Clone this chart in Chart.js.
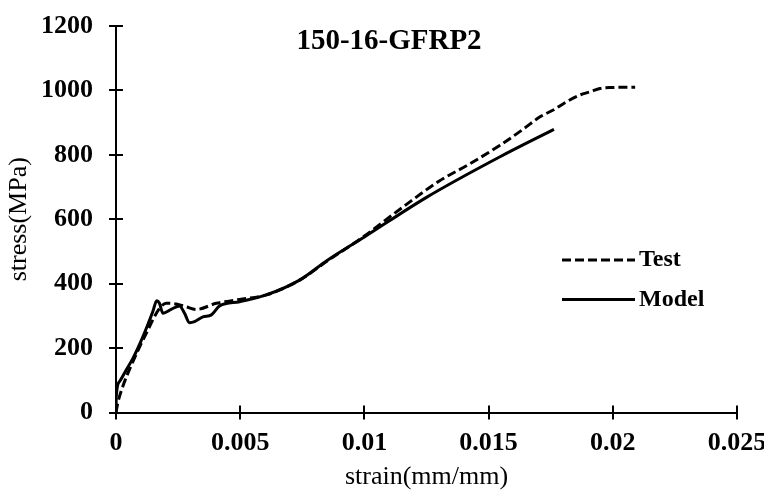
<!DOCTYPE html>
<html>
<head>
<meta charset="utf-8">
<script src="https://cdn.jsdelivr.net/npm/chart.js@4"></script>
<style>
html, body { margin: 0; padding: 0; background: #fff; }
</style>
</head>
<body>
<canvas id="stress_chart" width="764" height="493"></canvas>
<script>
var chartTitle = "150-16-GFRP2";
var xTitle = "strain(mm/mm)";
var yTitle = "stress(MPa)";
var xTickLabels = ["0", "0.005", "0.01", "0.015", "0.02", "0.025"];
var yTickLabels = ["0", "200", "400", "600", "800", "1000", "1200"];

var testStrain = [0, 0.00007, 0.00027, 0.00068, 0.00122, 0.00175, 0.00202, 0.00243, 0.00283, 0.00323, 0.00404, 0.00498, 0.00605, 0.00739, 0.0085, 0.01, 0.0115, 0.013, 0.0142, 0.01546, 0.0164, 0.01707, 0.0176, 0.01814, 0.01868, 0.0191, 0.01948, 0.02, 0.0209];
var testStress = [0, 29, 80, 158, 246, 323, 339, 337, 328, 320, 339, 351, 365, 411, 470, 548, 635, 718, 770, 830, 880, 918, 939, 965, 986, 996, 1006, 1009, 1010];

var modelStrain = [0, 0.00001, 0.00014, 0.00041, 0.00068, 0.00108, 0.00148, 0.00164, 0.00175, 0.00189, 0.00222, 0.00256, 0.00276, 0.00296, 0.00316, 0.0035, 0.00384, 0.00417, 0.00498, 0.00605, 0.00739, 0.0085, 0.01, 0.0125, 0.01546, 0.01763];
var modelStress = [0, 49, 96, 132, 168, 235, 313, 347, 339, 308, 320, 331, 308, 279, 282, 297, 303, 331, 344, 365, 411, 472, 545, 668, 794, 879];

function toPoints(xs, ys) {
    var pts = [];
    xs.forEach(function(x, i) {
        pts.push({ x: x, y: ys[i] });
    });
    return pts;
}

var serif = "'Liberation Serif', 'Times New Roman', serif";

// ticks drawn across the axis line, like the original
var crossTicks = {
    id: 'crossTicks',
    afterDraw: function(chart) {
        var ctx = chart.ctx;
        var a = chart.chartArea;
        var xs = chart.scales.x;
        var ys = chart.scales.y;
        ctx.save();
        ctx.strokeStyle = '#000';
        ctx.lineWidth = 2;
        xs.ticks.forEach(function(t, i) {
            var px = Math.round(xs.getPixelForTick(i));
            ctx.beginPath();
            ctx.moveTo(px, a.bottom - 7);
            ctx.lineTo(px, a.bottom + 7);
            ctx.stroke();
        });
        ys.ticks.forEach(function(t, i) {
            var py = Math.round(ys.getPixelForTick(i));
            ctx.beginPath();
            ctx.moveTo(a.left - 7, py);
            ctx.lineTo(a.left + 7, py);
            ctx.stroke();
        });
        ctx.restore();
    }
};

// title and legend sit inside the plot area
var insideText = {
    id: 'insideText',
    afterDraw: function(chart) {
        var ctx = chart.ctx;
        ctx.save();
        ctx.fillStyle = '#000';
        ctx.font = "bold 29px " + serif;
        ctx.textAlign = 'center';
        ctx.textBaseline = 'middle';
        ctx.fillText(chartTitle, 389, 42);

        ctx.font = "bold 24px " + serif;
        ctx.textAlign = 'left';
        chart.data.datasets.forEach(function(ds, i) {
            var y = 260 + i * 39.5;
            ctx.beginPath();
            ctx.strokeStyle = ds.borderColor;
            ctx.lineWidth = ds.borderWidth;
            ctx.setLineDash(ds.borderDash || []);
            ctx.moveTo(562, y);
            ctx.lineTo(635, y);
            ctx.stroke();
            ctx.setLineDash([]);
            ctx.fillText(ds.label, 639, y);
        });
        ctx.restore();
    }
};

var ctx = document.getElementById('stress_chart');
var chart = new Chart(ctx, {
    type: 'line',
    data: {
        datasets: [
            {
                label: "Test",
                data: toPoints(testStrain, testStress),
                borderColor: '#000',
                borderWidth: 3,
                borderDash: [9, 4],
                pointRadius: 0,
                fill: false,
                cubicInterpolationMode: 'monotone'
            },
            {
                label: "Model",
                data: toPoints(modelStrain, modelStress),
                borderColor: '#000',
                borderWidth: 3,
                pointRadius: 0,
                fill: false,
                cubicInterpolationMode: 'monotone'
            }
        ]
    },
    options: {
        responsive: false,
        animation: false,
        devicePixelRatio: 1,
        layout: { padding: { left: 0, right: 27, top: 26, bottom: 0 } },
        plugins: {
            legend: { display: false },
            title: { display: false },
            tooltip: { enabled: false }
        },
        scales: {
            x: {
                type: 'linear',
                min: 0,
                max: 0.025,
                afterFit: function(s) {
                    s.height = 80.5;
                    s.paddingLeft = 0;
                    s.paddingRight = 0;
                },
                grid: { display: true, drawOnChartArea: false, drawTicks: false },
                border: { display: true, color: '#000', width: 2 },
                ticks: {
                    stepSize: 0.005,
                    padding: 15,
                    color: '#000',
                    font: { family: serif, size: 26, weight: 'bold' },
                    callback: function(v, i) { return xTickLabels[i]; }
                },
                title: {
                    display: true,
                    text: xTitle,
                    color: '#000',
                    padding: { top: 0, bottom: 0 },
                    font: { family: serif, size: 26 }
                }
            },
            y: {
                min: 0,
                max: 1200,
                afterFit: function(s) {
                    s.width = 116;
                    s.paddingTop = 0;
                    s.paddingBottom = 0;
                },
                grid: { display: true, drawOnChartArea: false, drawTicks: false },
                border: { display: true, color: '#000', width: 2 },
                ticks: {
                    stepSize: 200,
                    padding: 23,
                    color: '#000',
                    font: { family: serif, size: 26, weight: 'bold' },
                    callback: function(v, i) { return yTickLabels[i]; }
                },
                title: {
                    display: true,
                    text: yTitle,
                    color: '#000',
                    padding: { top: 4, bottom: 0 },
                    font: { family: serif, size: 26 }
                }
            }
        }
    },
    plugins: [crossTicks, insideText]
});
</script>
</body>
</html>
